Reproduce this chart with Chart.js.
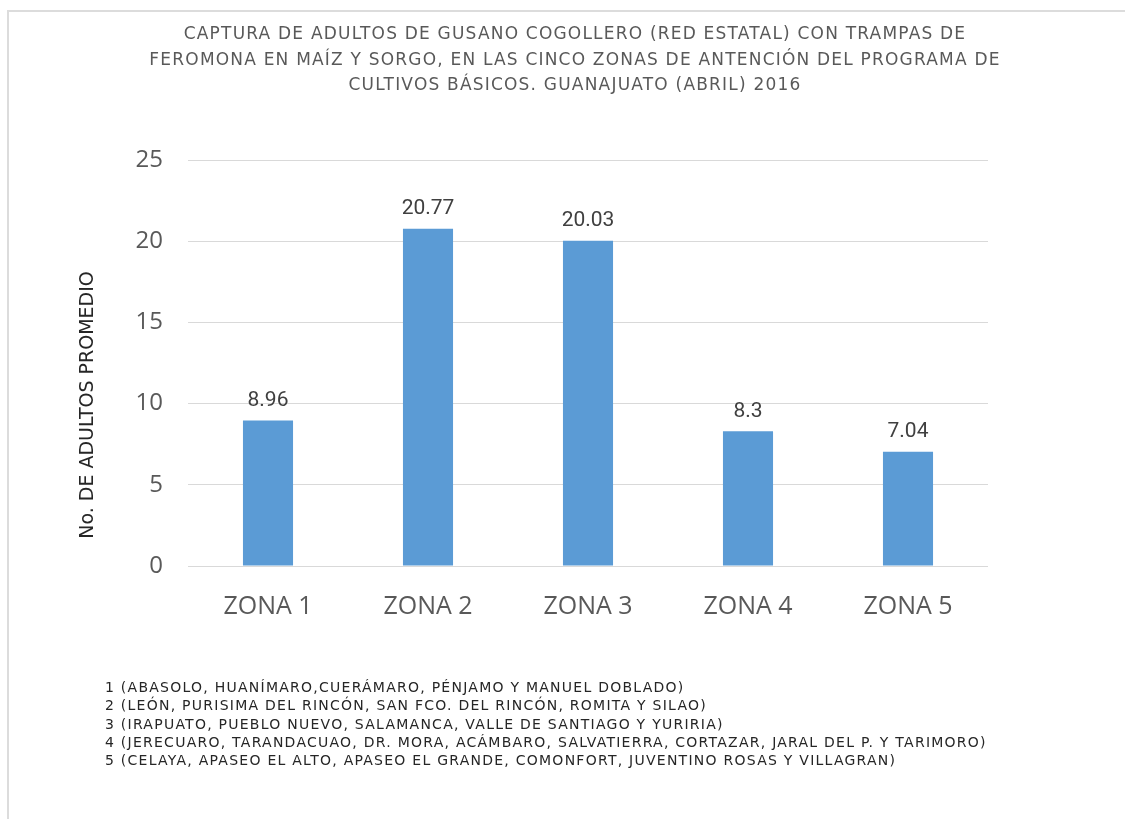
<!DOCTYPE html>
<html>
<head>
<meta charset="utf-8">
<script src="https://cdn.jsdelivr.net/npm/chart.js@4"></script>
<style>
  body { margin: 0; background: #fff; }
  #wrap { position: relative; width: 1125px; height: 819px; overflow: hidden; }
  #frame { position: absolute; left: 7px; top: 10px; width: 1130px; height: 820px; border: 2px solid #dcdcdc; box-sizing: border-box; }
  #chart { position: absolute; left: 0; top: 0; }
  #notes { position: absolute; left: 105px; top: 678px; font: 14px "DejaVu Sans"; letter-spacing: 1.25px; line-height: 18.3px; color: #262626; white-space: nowrap; }
</style>
</head>
<body>
<div id="wrap">
  <div id="frame"></div>
  <canvas id="chart" width="1125" height="819"></canvas>
  <div id="notes"></div>
</div>
<script>
const titleLines = [
  'CAPTURA DE ADULTOS DE GUSANO COGOLLERO (RED ESTATAL) CON TRAMPAS DE',
  'FEROMONA EN MAÍZ Y SORGO, EN LAS CINCO ZONAS DE ANTENCIÓN DEL PROGRAMA DE',
  'CULTIVOS BÁSICOS. GUANAJUATO (ABRIL) 2016'
];
const yTitle = 'No. DE ADULTOS PROMEDIO';
const zonas = ['ZONA 1', 'ZONA 2', 'ZONA 3', 'ZONA 4', 'ZONA 5'];
const adultos = [8.96, 20.77, 20.03, 8.3, 7.04];
const yTicks = [0, 5, 10, 15, 20, 25];
const notas = [
  '1 (ABASOLO, HUANÍMARO,CUERÁMARO, PÉNJAMO Y MANUEL DOBLADO)',
  '2 (LEÓN, PURISIMA DEL RINCÓN, SAN FCO. DEL RINCÓN, ROMITA Y SILAO)',
  '3 (IRAPUATO, PUEBLO NUEVO, SALAMANCA, VALLE DE SANTIAGO Y YURIRIA)',
  '4 (JERECUARO, TARANDACUAO, DR. MORA, ACÁMBARO, SALVATIERRA, CORTAZAR, JARAL DEL P. Y TARIMORO)',
  '5 (CELAYA, APASEO EL ALTO, APASEO EL GRANDE, COMONFORT, JUVENTINO ROSAS Y VILLAGRAN)'
];

document.getElementById('notes').innerHTML = notas.map(n => '<div>' + n + '</div>').join('');

// title and axis title placed like the original (axis title sits a bit low)
const titlePlugin = {
  id: 'titleLines',
  afterDraw(chart) {
    const ctx = chart.ctx;
    ctx.save();
    ctx.font = '17px "DejaVu Sans"';
    ctx.letterSpacing = '1.2px';
    ctx.fillStyle = '#595959';
    ctx.textAlign = 'center';
    ctx.textBaseline = 'middle';
    titleLines.forEach((t, i) => ctx.fillText(t, 575, 35 + i * 25.5));

    ctx.font = '19px "DejaVu Sans"';
    ctx.letterSpacing = '0px';
    ctx.fillStyle = '#262626';
    ctx.translate(88, 405);
    ctx.rotate(-Math.PI / 2);
    ctx.fillText(yTitle, 0, 0);
    ctx.restore();
  }
};

const valueLabels = {
  id: 'valueLabels',
  afterDatasetsDraw(chart) {
    const ctx = chart.ctx;
    ctx.save();
    ctx.font = '21px Roboto';
    ctx.fillStyle = '#404040';
    ctx.textAlign = 'center';
    ctx.textBaseline = 'bottom';
    chart.getDatasetMeta(0).data.forEach((bar, i) => {
      ctx.fillText(String(adultos[i]), bar.x, bar.y - 9);
    });
    ctx.restore();
  }
};

new Chart(document.getElementById('chart'), {
  type: 'bar',
  data: {
    labels: zonas,
    datasets: [{
      data: adultos,
      backgroundColor: '#5b9bd5',
      barPercentage: 0.313,
      categoryPercentage: 1
    }]
  },
  options: {
    responsive: false,
    animation: false,
    layout: { padding: { top: 160, right: 137, bottom: 193, left: 0 } },
    plugins: { legend: { display: false }, tooltip: { enabled: false } },
    scales: {
      x: {
        grid: { display: false },
        border: { display: false },
        ticks: { color: '#595959', font: { family: 'Open Sans', size: 25 }, padding: 18 },
        afterFit(scale) { scale.height = 60; }
      },
      y: {
        min: 0,
        max: 25,
        afterBuildTicks(scale) { scale.ticks = yTicks.map(v => ({ value: v })); },
        grid: { color: '#d9d9d9', drawTicks: false },
        border: { display: false },
        ticks: { color: '#595959', font: { family: 'Open Sans', size: 24 }, padding: 25 },
        afterFit(scale) { scale.width = 188; }
      }
    }
  },
  plugins: [titlePlugin, valueLabels]
});
</script>
</body>
</html>
